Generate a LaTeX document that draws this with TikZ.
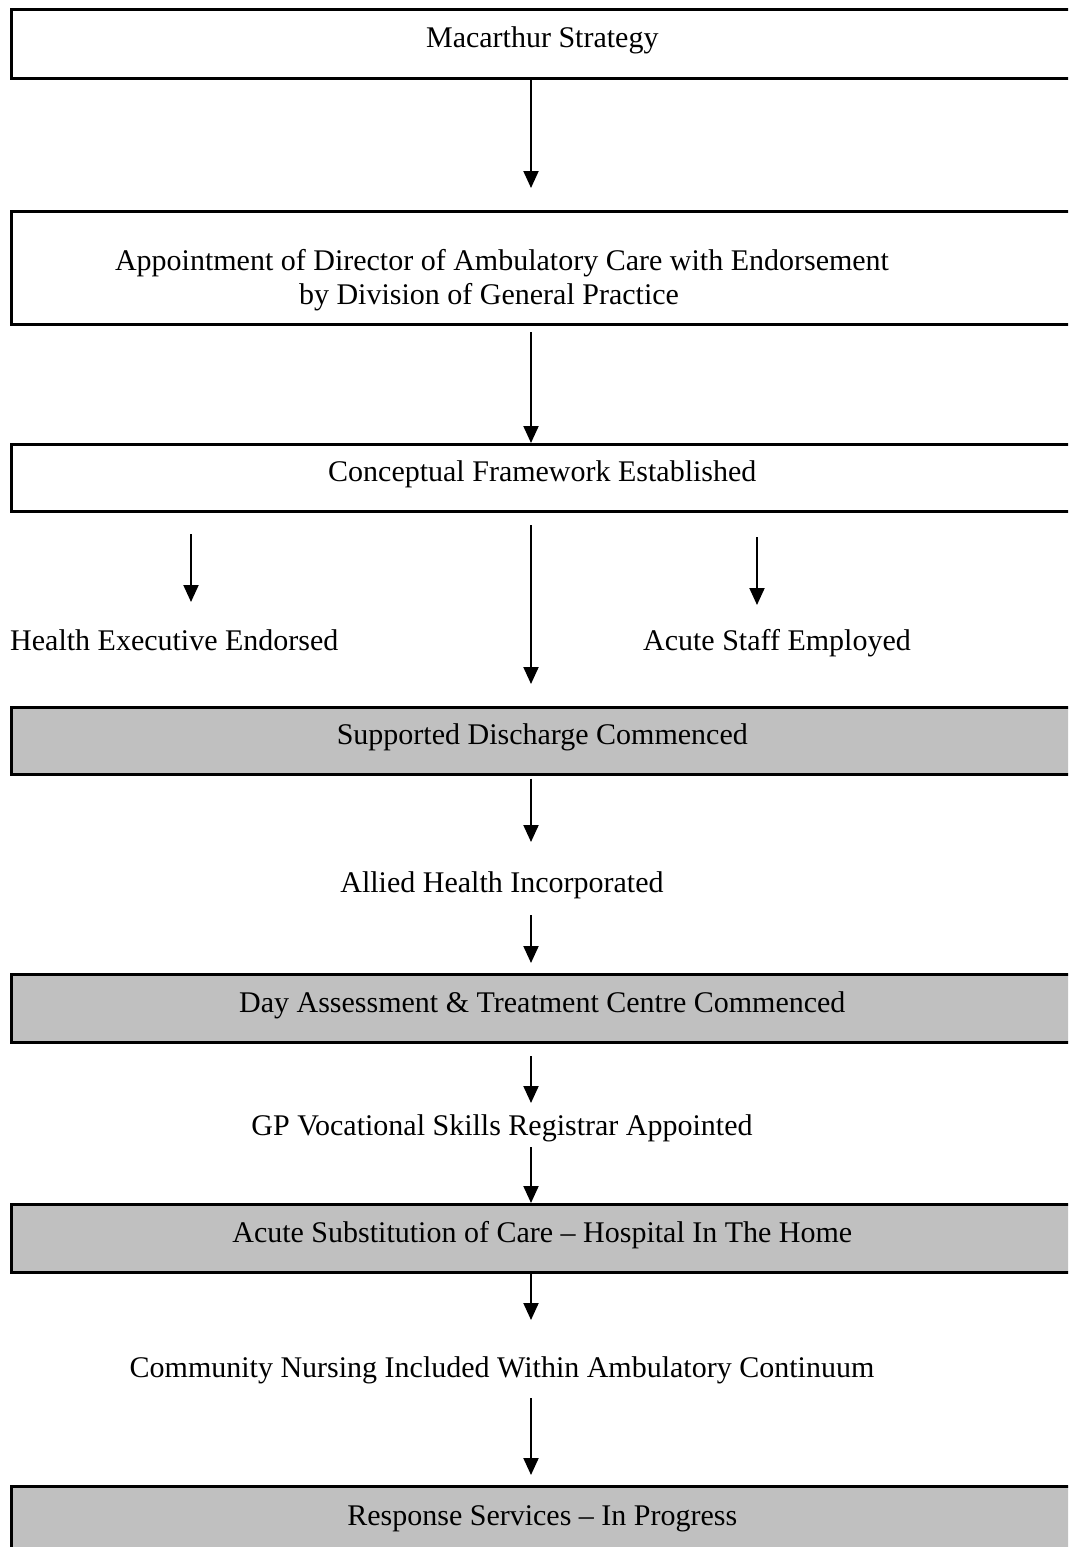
\documentclass[tikz,border=0pt]{standalone}
\usepackage{fontspec}
\setmainfont{Liberation Serif}
\usetikzlibrary{arrows.meta}
\definecolor{boxgrey}{HTML}{C0C0C0}
\begin{document}
\begin{tikzpicture}[x=1pt,y=-1pt,
  box/.style={draw=black, line width=2.6pt, minimum width=1062pt, anchor=north west,
    inner sep=0pt, font=\fontsize{30}{34}\selectfont, text height=21pt, text depth=13pt},
  greybox/.style={box, fill=boxgrey},
  lbl/.style={font=\fontsize{30}{34}\selectfont, anchor=base, inner sep=0pt},
  arr/.style={line width=2pt, -{Triangle[width=15pt,length=17pt]}}
]
\useasboundingbox (0,0) rectangle (1068,1547);
\clip (0,0) rectangle (1068,1547);

% boxes
\node[box, minimum height=69pt] (b1) at (10,8) {Macarthur Strategy};
\node[box, minimum height=113pt] (b2) at (10,210) {};
\node[box, minimum height=67pt] (b3) at (10,443) {Conceptual Framework Established};
\node[greybox, minimum height=67pt] (b4) at (10,706) {Supported Discharge Commenced};
\node[greybox, minimum height=68pt] (b5) at (10,973) {Day Assessment \& Treatment Centre Commenced};
\node[greybox, minimum height=68pt] (b6) at (10,1203) {Acute Substitution of Care -- Hospital In The Home};
\node[greybox, minimum height=70pt] (b7) at (10,1485) {Response Services -- In Progress};

% texts
\node[lbl] (t2a) at (502,270) {Appointment of Director of Ambulatory Care with Endorsement};
\node[lbl] (t2b) at (489,304) {by Division of General Practice};
\node[lbl, anchor=base west] (hx) at (10,650) {Health Executive Endorsed};
\node[lbl] (ac) at (777,650) {Acute Staff Employed};
\node[lbl] (ah) at (502,892) {Allied Health Incorporated};
\node[lbl] (gp) at (502,1135) {GP Vocational Skills Registrar Appointed};
\node[lbl] (cn) at (502,1377) {Community Nursing Included Within Ambulatory Continuum};

% arrow end points
\coordinate (e1) at (531,188);
\coordinate (s2) at (531,332);
\coordinate (s3l) at (191,534);
\coordinate (e3l) at (191,602);
\coordinate (s3m) at (531,525);
\coordinate (e3m) at (531,684);
\coordinate (s3r) at (757,537);
\coordinate (e3r) at (757,605);
\coordinate (e4) at (531,842);
\coordinate (s5) at (531,915);
\coordinate (e5) at (531,963);
\coordinate (s6) at (531,1056);
\coordinate (e6) at (531,1103);
\coordinate (s7) at (531,1147);
\coordinate (e8) at (531,1320);
\coordinate (s9) at (531,1398);
\coordinate (e9) at (531,1475);

% connectors
\draw[arr] (b1.south -| e1) -- (e1);
\draw[arr] (s2) -- (b3.north -| s2);
\draw[arr] (s3l) -- (e3l);
\draw[arr] (s3m) -- (e3m);
\draw[arr] (s3r) -- (e3r);
\draw[arr] ([yshift=-3pt]b4.south -| e4) -- (e4);
\draw[arr] (s5) -- (e5);
\draw[arr] (s6) -- (e6);
\draw[arr] (s7) -- (b6.north -| s7);
\draw[arr] (b6.south -| e8) -- (e8);
\draw[arr] (s9) -- (e9);
\end{tikzpicture}
\end{document}
